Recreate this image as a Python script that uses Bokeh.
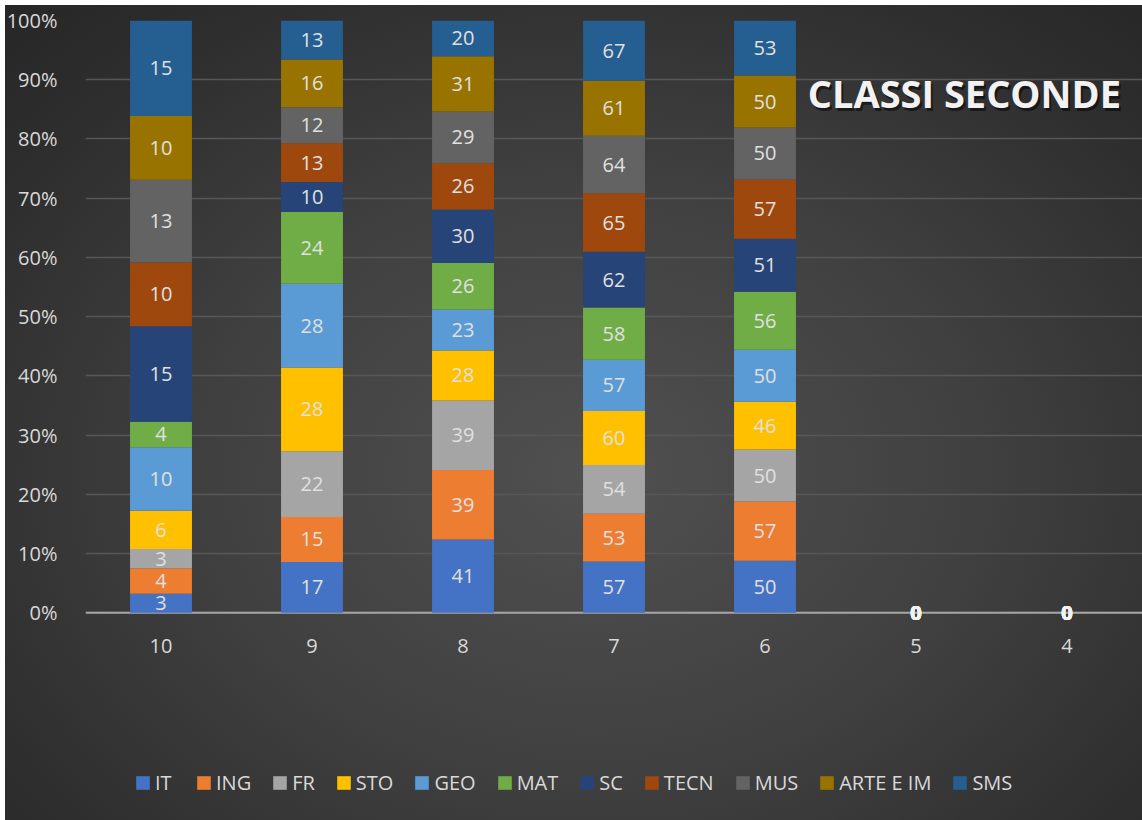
import numpy as np
from bokeh.plotting import figure
from bokeh.layouts import column
from bokeh.models import (ColumnDataSource, FactorRange, Range1d, NumeralTickFormatter,
                          FixedTicker, Legend, LegendItem, Label, Span, InlineStyleSheet)
from bokeh.core.properties import value
from bokeh.embed import file_html
from bokeh.resources import INLINE

# ---------------- data ----------------
categories = ["10", "9", "8", "7", "6", "5", "4"]
series = ["IT", "ING", "FR", "STO", "GEO", "MAT", "SC", "TECN", "MUS", "ARTE E IM", "SMS"]
colors = ["#4472C4", "#ED7D31", "#A5A5A5", "#FFC000", "#5B9BD5", "#70AD47",
          "#264478", "#9E480E", "#636363", "#997300", "#255E91"]

IT   = [3, 17, 41, 57, 50, 0, 0]
ING  = [4, 15, 39, 53, 57, 0, 0]
FR   = [3, 22, 39, 54, 50, 0, 0]
STO  = [6, 28, 28, 60, 46, 0, 0]
GEO  = [10, 28, 23, 57, 50, 0, 0]
MAT  = [4, 24, 26, 58, 56, 0, 0]
SC   = [15, 10, 30, 62, 51, 0, 0]
TECN = [10, 13, 26, 65, 57, 0, 0]
MUS  = [13, 12, 29, 64, 50, 0, 0]
ARTE = [10, 16, 31, 61, 50, 0, 0]
SMS  = [15, 13, 20, 67, 53, 0, 0]

y_ticks = [0.0, 0.1, 0.2, 0.3, 0.4, 0.5, 0.6, 0.7, 0.8, 0.9, 1.0]
title_text = "CLASSI SECONDE"

values = [IT, ING, FR, STO, GEO, MAT, SC, TECN, MUS, ARTE, SMS]

# ---------------- derived ----------------
vals = np.array(values, dtype=float)          # series x categories
totals = vals.sum(axis=0)
safe = np.where(totals == 0, 1, totals)
frac = vals / safe

data = {"cat": categories}
for s, f in zip(series, frac):
    data[s] = list(f)
src = ColumnDataSource(data)

tops = np.cumsum(frac, axis=0)
bottoms = tops - frac
mids = (tops + bottoms) / 2

lab_x, lab_y, lab_t = [], [], []
zero_x, zero_y, zero_t = [], [], []
for i, s in enumerate(series):
    for j, c in enumerate(categories):
        if totals[j] == 0:
            zero_x.append(c); zero_y.append(0.0); zero_t.append(str(int(vals[i, j])))
        else:
            lab_x.append(c); lab_y.append(mids[i, j]); lab_t.append(str(int(vals[i, j])))

lab_src = ColumnDataSource(dict(x=lab_x, y=lab_y, t=lab_t))
zero_src = ColumnDataSource(dict(x=zero_x, y=zero_y, t=zero_t))

FONT = "Open Sans"

# ---------------- main figure ----------------
p = figure(width=1142, height=670, x_range=FactorRange(factors=categories),
           y_range=Range1d(-0.03, 1), output_backend="svg", toolbar_location=None,
           min_border_left=85, min_border_right=0, min_border_top=20, min_border_bottom=40)
p.background_fill_alpha = 0
p.border_fill_alpha = 0
p.outline_line_color = None

renderers = p.vbar_stack(series, x="cat", width=0.41, color=colors, line_color=None, source=src)

p.text(x="x", y="y", text="t", source=lab_src, text_align="center", text_baseline="middle",
       text_color="#e0e0e0", text_font=value(FONT), text_font_size="20px")

p.yaxis.ticker = FixedTicker(ticks=y_ticks)
p.yaxis.formatter = NumeralTickFormatter(format="0%")
p.yaxis.axis_line_color = None
p.yaxis.major_tick_line_color = None
p.yaxis.minor_tick_line_color = None
p.yaxis.major_label_standoff = 22
p.xaxis.axis_line_color = None
p.xaxis.major_tick_line_color = None
p.xaxis.minor_tick_line_color = None
p.xaxis.major_label_standoff = 2
for ax in (p.xaxis, p.yaxis):
    ax.major_label_text_color = "#d9d9d9"
    ax.major_label_text_font = FONT
    ax.major_label_text_font_size = "20px"

p.xgrid.grid_line_color = None
p.ygrid.grid_line_color = "#575757"
p.ygrid.grid_line_width = 1.5

# category baseline at 0 (under the labels)
p.add_layout(Span(location=0, dimension="width", line_color="#a6a6a6", line_width=2,
                  level="underlay"))

# zero-value labels sitting on the baseline
p.text(x="x", y="y", text="t", source=zero_src, text_align="center", text_baseline="middle",
       text_color="#f2f2f2", text_font=value(FONT), text_font_size="20px",
       text_font_style="bold")

# chart title with soft shadow
shadow = Label(x=5.82, y=0.877, text=title_text, text_align="center", text_baseline="middle",
               text_font=FONT, text_font_style="bold", text_font_size="38px",
               text_color="#000000", text_alpha=0.5, x_offset=2, y_offset=-3)
title = Label(x=5.82, y=0.877, text=title_text, text_align="center", text_baseline="middle",
              text_font=FONT, text_font_style="bold", text_font_size="38px",
              text_color="#f2f2f2")
p.add_layout(shadow)
p.add_layout(title)

# ---------------- legend strip ----------------
# same stacked bars, but scrolled out of view: only their legend swatches are shown
q = figure(width=1142, height=150, x_range=FactorRange(factors=categories), y_range=Range1d(10, 11),
           output_backend="svg", toolbar_location=None,
           x_axis_location=None, y_axis_location=None,
           min_border_left=0, min_border_right=0, min_border_top=0, min_border_bottom=0)
q.background_fill_alpha = 0
q.border_fill_alpha = 0
q.outline_line_color = None
q.grid.visible = False

leg_renderers = q.vbar_stack(series, x="cat", width=0.41, color=colors, line_color=None, source=src)

legend = Legend(items=[LegendItem(label=s, renderers=[r]) for s, r in zip(series, leg_renderers)],
                orientation="horizontal", location=(49, 24),
                glyph_width=17, glyph_height=17, label_standoff=4, spacing=20,
                padding=0, margin=0, border_line_color=None, background_fill_alpha=0,
                label_text_color="#d9d9d9", label_text_font=FONT,
                label_text_font_size="20px")
q.add_layout(legend)

bg = InlineStyleSheet(css=""":host {
  background: radial-gradient(ellipse 75% 80% at 52% 58%, #505050 0%, #404040 45%, #2e2e2e 80%, #262626 100%);
  box-shadow: inset 5px 5px 0 0 #ffffff;
}""")

layout = column(p, q, spacing=0, stylesheets=[bg])

open("out.html", "w").write(file_html(layout, INLINE))
